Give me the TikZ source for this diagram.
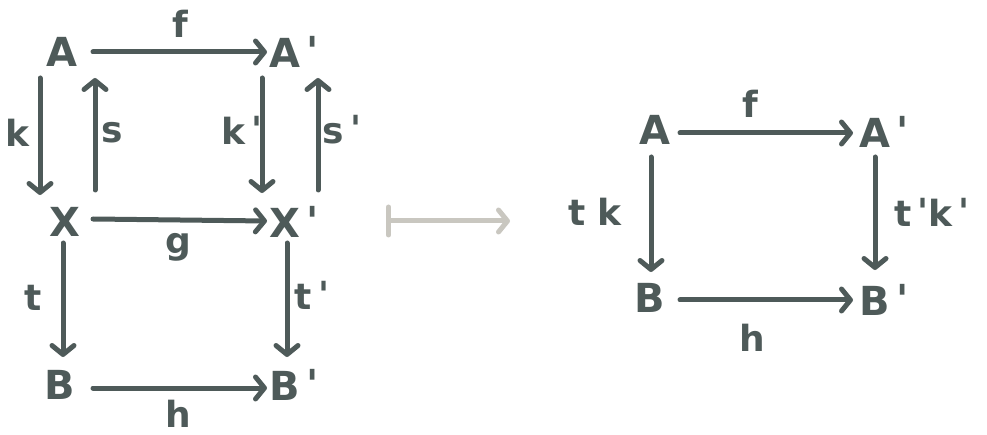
\documentclass[tikz,border=0pt]{standalone}
\usepackage{fontspec}
\setmainfont{DejaVu Sans}
\usetikzlibrary{arrows.meta,calc}
\definecolor{ink}{HTML}{4E5A59}
\definecolor{pale}{HTML}{C9C7C0}
\newcommand{\pr}{\,\raisebox{2pt}{\textquotesingle}}
\tikzset{
  obj/.style={inner sep=0pt, text=ink, font=\fontsize{40}{42}\selectfont\bfseries},
  lab/.style={inner sep=0pt, text=ink, font=\fontsize{36}{38}\selectfont\bfseries},
  arr/.style={draw=ink, line width=5pt, line cap=round, -{Straight Barb[length=9pt,width=22pt,round]}},
  maps/.style={draw=pale, line width=5pt, line cap=round, {Bar[width=28pt,round]}-{Straight Barb[length=9pt,width=22pt,round]}}
}
\begin{document}
\begin{tikzpicture}[x=1pt,y=-1pt]
\useasboundingbox (0,0) rectangle (987,435);
% left diagram
\node[obj] (A)  at (62,52)  {A};
\node[obj] (Ap) at (294,52) {A\pr};
\node[obj] (X)  at (65,222) {X};
\node[obj] (Xp) at (294,222) {X\pr};
\node[obj] (B)  at (60,385) {B};
\node[obj] (Bp) at (294,385) {B\pr};
\draw[arr] ($(A)+(31,0)$) -- ($(Ap)+(-27,0)$);
\draw[arr] ($(A)+(-22,26)$) -- ($(X)+(-25,-27)$);
\draw[arr] ($(X)+(30,-32)$) -- ($(A)+(33,26)$);
\draw[arr] ($(Ap)+(-32,26)$) -- ($(Xp)+(-32,-29)$);
\draw[arr] ($(Xp)+(24,-32)$) -- ($(Ap)+(24,26)$);
\draw[arr] ($(X)+(28,-3)$) -- ($(Xp)+(-27,-1)$);
\draw[arr] ($(X)+(-2,21)$) -- ($(B)+(3,-28)$);
\draw[arr] ($(Xp)+(-7,21)$) -- ($(Bp)+(-7,-28)$);
\draw[arr] ($(B)+(33,3)$) -- ($(Bp)+(-27,3)$);
\node[lab] (lf) at (180,24) {f};
\node[lab] (lk) at (17,133) {k};
\node[lab] (ls) at (112,133) {s};
\node[lab] (lkp) at (242,130) {k\pr};
\node[lab] (lsp) at (342,130) {s\pr};
\node[lab] (lg) at (178,247) {g};
\node[lab] (lt) at (33,298) {t};
\node[lab] (ltp) at (312,295) {t\pr};
\node[lab] (lh) at (178,414) {h};
% maps-to arrow
\coordinate (m1) at (386,221);
\coordinate (m2) at (510,221);
\draw[maps] (m1) -- (m2);
% right diagram
\node[obj] (A2)  at (655,130) {A};
\node[obj] (Ap2) at (884,132) {A\pr};
\node[obj] (B2)  at (650,298) {B};
\node[obj] (Bp2) at (884,300) {B\pr};
\draw[arr] ($(A2)+(25,3)$) -- ($(Ap2)+(-31,1)$);
\draw[arr] ($(A2)+(-4,27)$) -- ($(B2)+(1,-26)$);
\draw[arr] ($(Ap2)+(-9,25)$) -- ($(Bp2)+(-9,-30)$);
\draw[arr] ($(B2)+(30,2)$) -- ($(Bp2)+(-31,0)$);
\node[lab] (lf2) at (750,104) {f};
\node[lab] (ltk) at (595,212) {t k};
\node[lab] (ltkp) at (932,212) {t\pr k\pr};
\node[lab] (lh2) at (752,338) {h};
\end{tikzpicture}
\end{document}
